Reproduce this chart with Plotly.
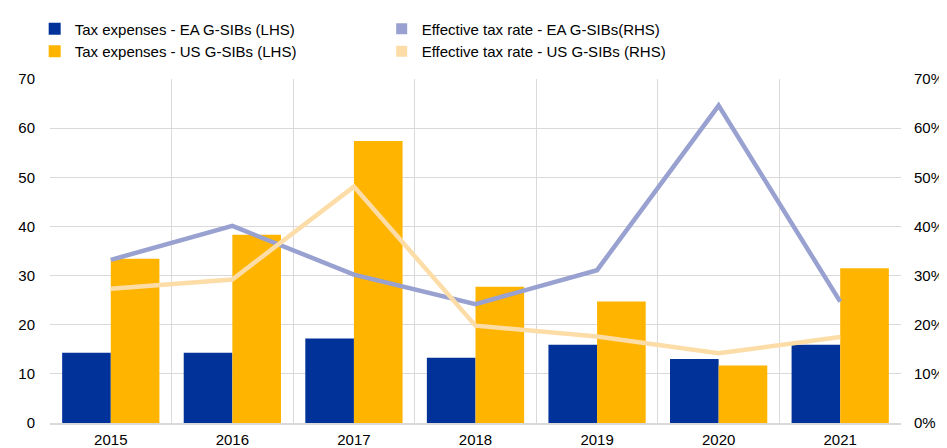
import plotly.graph_objects as go

years = ["2015", "2016", "2017", "2018", "2019", "2020", "2021"]
tax_ea = [14.3, 14.3, 17.2, 13.3, 15.9, 13.0, 15.9]
tax_us = [33.4, 38.3, 57.4, 27.7, 24.7, 11.7, 31.5]
etr_ea = [0.332, 0.401, 0.302, 0.242, 0.311, 0.646, 0.247]
etr_us = [0.273, 0.292, 0.481, 0.198, 0.176, 0.142, 0.175]

C_EA = "#003299"
C_US = "#FFB400"
C_EA_L = "#98A1D0"
C_US_L = "#FDDDA7"
FONT = "Liberation Sans, Arial, sans-serif"

fig = go.Figure()
fig.add_trace(go.Bar(x=years, y=tax_ea, name="Tax expenses - EA G-SIBs (LHS)",
                     marker=dict(color=C_EA, line=dict(width=0)), legendrank=1))
fig.add_trace(go.Bar(x=years, y=tax_us, name="Tax expenses - US G-SIBs (LHS)",
                     marker=dict(color=C_US, line=dict(width=0)), legendrank=3))
fig.add_trace(go.Scatter(x=years, y=etr_ea, yaxis="y2", mode="lines",
                         line=dict(color=C_EA_L, width=4.5), showlegend=False))
fig.add_trace(go.Scatter(x=years, y=etr_us, yaxis="y2", mode="lines",
                         line=dict(color=C_US_L, width=4.5), showlegend=False))
# legend entries with rectangular swatches for the lines
fig.add_trace(go.Scatter(x=[None], y=[None], yaxis="y2", mode="markers",
                         name="Effective tax rate - EA G-SIBs(RHS)",
                         marker=dict(symbol="square", color=C_EA_L, size=11), legendrank=2))
fig.add_trace(go.Scatter(x=[None], y=[None], yaxis="y2", mode="markers",
                         name="Effective tax rate - US G-SIBs (RHS)",
                         marker=dict(symbol="square", color=C_US_L, size=11), legendrank=4))

grid = "#d9d9d9"
fig.update_layout(
    width=939, height=440,
    margin=dict(l=41.5, r=46, t=71, b=24.7, autoexpand=False),
    paper_bgcolor="white", plot_bgcolor="white",
    font=dict(family=FONT, size=15, color="#000000"),
    barmode="group", bargap=0.2, bargroupgap=0,
    legend=dict(orientation="h", x=-0.018, y=1.193, xanchor="left", yanchor="top",
                entrywidth=302, entrywidthmode="pixels", traceorder="normal",
                font=dict(size=15, family=FONT), tracegroupgap=0,
                itemwidth=30, bgcolor="rgba(0,0,0,0)"),
    xaxis=dict(type="category", tickson="boundaries", showgrid=True, gridcolor=grid,
               gridwidth=1, showline=True, linecolor=grid, linewidth=2,
               ticks="", ticklabelstandoff=2, zeroline=False),
    yaxis=dict(range=[0, 70], dtick=10, showgrid=True, gridcolor=grid, gridwidth=1,
               zeroline=False, ticks="", ticklabelstandoff=14),
    yaxis2=dict(range=[0, 0.7], dtick=0.1, tickformat=".0%", overlaying="y", side="right",
                showgrid=False, zeroline=False, ticks="", ticklabelstandoff=12),
)

fig.write_html("out.html")
